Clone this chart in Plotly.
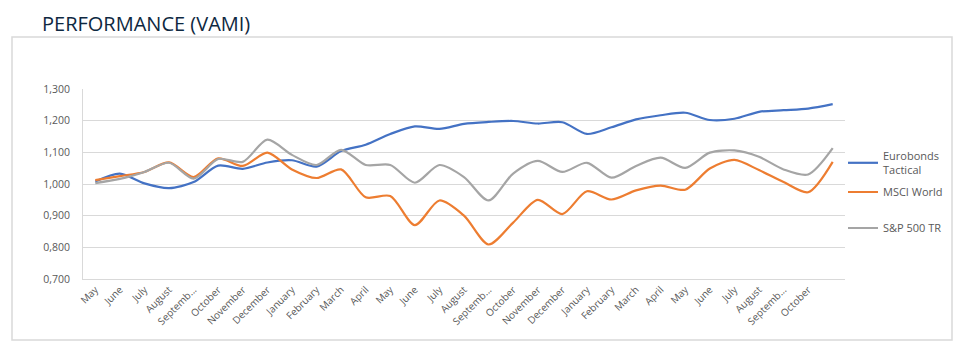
import plotly.graph_objects as go

months = ["May", "June", "July", "August", "Septemb...", "October", "November", "December",
          "January", "February", "March", "April", "May", "June", "July", "August",
          "Septemb...", "October", "November", "December", "January", "February", "March",
          "April", "May", "June", "July", "August", "Septemb...", "October", ""]

eurobonds = [1.008, 1.033, 1.002, 0.987, 1.006, 1.058, 1.048, 1.068, 1.075, 1.055,
             1.104, 1.124, 1.158, 1.182, 1.174, 1.190, 1.196, 1.199, 1.191, 1.195,
             1.158, 1.179, 1.204, 1.217, 1.225, 1.202, 1.206, 1.228, 1.233, 1.238, 1.252]

msci = [1.012, 1.025, 1.038, 1.068, 1.022, 1.081, 1.057, 1.099, 1.046, 1.019,
        1.046, 0.958, 0.962, 0.870, 0.948, 0.900, 0.809, 0.878, 0.950, 0.905,
        0.977, 0.951, 0.980, 0.995, 0.982, 1.049, 1.076, 1.044, 1.006, 0.974, 1.070]

sp500 = [1.003, 1.016, 1.038, 1.067, 1.017, 1.079, 1.070, 1.140, 1.092, 1.060,
         1.108, 1.060, 1.060, 1.004, 1.060, 1.022, 0.948, 1.033, 1.073, 1.038,
         1.067, 1.020, 1.057, 1.083, 1.051, 1.099, 1.106, 1.086, 1.046, 1.030, 1.113]

y_ticks = [0.7, 0.8, 0.9, 1.0, 1.1, 1.2, 1.3]
y_labels = ["0,700", "0,800", "0,900", "1,000", "1,100", "1,200", "1,300"]

series = [
    ("Eurobonds<br>Tactical", eurobonds, "#4472C4", "legend", 163),
    ("MSCI World", msci, "#ED7D31", "legend2", 192),
    ("S&P 500 TR", sp500, "#A5A5A5", "legend3", 228),
]

x = list(range(len(months)))

W, H = 966, 351
L, R, T, B = 83, 845, 89, 279

def px_x(p):
    return (p - L) / (R - L)

def px_y(p):
    return (B - p) / (B - T)

fig = go.Figure()
legends = {}
for name, vals, color, leg, ly in series:
    fig.add_trace(go.Scatter(
        x=x, y=vals, name=name, mode="lines",
        line=dict(color=color, width=2.2, shape="spline", smoothing=0.8),
        legend=leg,
    ))
    legends[leg] = dict(
        x=px_x(843), xanchor="left",
        y=px_y(ly), yanchor="middle",
        font=dict(size=11, color="#595959"),
        bgcolor="rgba(0,0,0,0)", itemwidth=30,
    )

fig.update_layout(
    width=W, height=H,
    margin=dict(l=L, r=W - R, t=T, b=H - B),
    paper_bgcolor="white", plot_bgcolor="white",
    font=dict(family="Open Sans, Liberation Sans, sans-serif", color="#595959", size=10),
    xaxis=dict(
        range=[-0.5, len(months) - 0.5],
        tickmode="array", tickvals=x, ticktext=months,
        tickangle=-45, showgrid=False, zeroline=False,
        showline=True, linecolor="#D9D9D9", linewidth=1,
        ticks="", tickfont=dict(size=10, color="#595959"),
        fixedrange=True,
    ),
    yaxis=dict(
        range=[0.7, 1.3],
        tickmode="array", tickvals=y_ticks, ticktext=y_labels,
        showgrid=True, gridcolor="#D9D9D9", gridwidth=1,
        zeroline=False, showline=True, linecolor="#D9D9D9", linewidth=1,
        ticks="", ticklabelstandoff=10, tickfont=dict(size=10.5, color="#595959"),
        fixedrange=True,
    ),
    showlegend=True,
    annotations=[dict(
        text="PERFORMANCE (VAMI)", xref="paper", yref="paper",
        x=px_x(40), y=px_y(8), xanchor="left", yanchor="top",
        showarrow=False, font=dict(size=20, color="#0E2841", family="Open Sans, sans-serif"),
    )],
    shapes=[dict(
        type="rect", xref="paper", yref="paper",
        x0=px_x(12), x1=px_x(952),
        y0=px_y(340), y1=px_y(37),
        line=dict(color="#D9D9D9", width=1.5), fillcolor="rgba(0,0,0,0)", layer="below",
    )],
    **legends,
)

fig.write_html("out.html")
